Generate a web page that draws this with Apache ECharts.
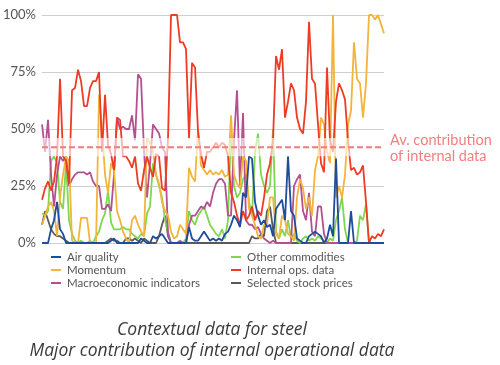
<!DOCTYPE html>
<html><head><meta charset="utf-8">
<script src="https://cdn.jsdelivr.net/npm/echarts@6/dist/echarts.min.js"></script>
<style>html,body{margin:0;padding:0;background:#fff}#c{width:500px;height:365px}</style>
</head><body><div id="c"></div>
<script>
// Time steps (periods)
const categories = Array.from({length:115}, (_, i) => String(i + 1));
const yTicks = [0, 25, 50, 75, 100];
const avgInternal = 42;
const avgBand = [38, 46];

const airQuality = [0,0,0,6,10,18,6,4,0,0, 0,0,0,0,0,0,0,0,0,0, 0,0,0,1,2,0,0,0,0,0, 0,0,0,2,1,0,0,3,2,3, 4,2,0,0,0,0,0,0,0,7, 2,1,1,3,5,3,1,2,1,2, 1,4,5,8,12,10,7,22,20,38, 37,18,12,8,10,7,8,3,15,17, 19,10,38,14,12,2,1,0,0,3, 4,5,4,3,0,2,8,3,37,0, 0,0,0,14,0,0,0,0,0,0, 0,0,0,0,0];
const momentum = [8,12,16,18,14,3,20,30,38,36, 1,0,0,11,11,11,0,0,0,65, 50,30,22,35,32,14,10,5,2,0, 10,12,8,5,3,46,44,40,30,26, 18,14,12,5,2,3,8,6,4,33, 29,27,50,34,32,30,32,30,31,30, 32,29,30,56,30,26,24,38,36,15, 12,8,3,2,8,8,20,20,4,2, 12,10,4,3,1,20,28,24,15,20, 12,32,38,55,52,40,35,100,20,25, 20,30,52,58,88,72,70,55,70,100, 100,98,100,96,92];
const macro = [52,40,54,30,16,30,38,36,38,25, 28,30,31,31,31,30,31,27,25,25, 15,15,17,14,30,55,50,51,50,50, 56,45,74,72,40,20,35,52,50,48, 42,40,4,0,0,0,1,0,0,8, 12,12,14,16,15,18,16,22,26,28, 28,26,12,12,45,67,25,57,10,8, 8,6,7,4,2,1,0,1,0,0, 0,0,0,0,25,28,30,14,10,22, 5,3,16,16,4,0,0,0,0,0, 0,0,0,0,0,0,0,0,0,0, 0,0,0,0,0];
const otherCommodities = [13,12,14,36,38,35,18,15,35,10, 4,1,0,1,0,0,1,0,3,5, 10,13,23,9,6,6,6,7,6,6, 4,3,2,4,3,13,16,35,30,25, 20,10,5,0,0,0,0,0,2,14, 10,8,12,14,16,12,8,6,4,3, 6,2,10,50,25,20,22,28,30,18, 12,40,48,30,25,22,25,50,5,2, 6,3,10,2,4,1,0,2,3,1, 2,1,3,2,1,0,2,1,10,14, 20,6,0,0,0,1,12,10,17,0, 0,0,0,0,0];
const internalOps = [19,24,27,23,27,38,72,38,36,26, 67,68,76,71,60,60,68,71,71,75, 40,65,43,39,32,55,54,38,38,36, 33,38,26,23,32,38,33,29,39,38, 24,23,46,100,100,100,88,88,85,46, 79,77,49,39,33,40,40,42,44,42, 44,43,38,22,18,12,8,14,10,12, 16,10,14,12,20,30,35,45,82,76, 85,55,62,70,67,55,50,48,62,97, 72,70,52,35,31,77,45,40,62,70, 67,63,45,32,33,30,31,34,18,0, 3,2,4,3,6];
const stockPrices = [8,14,10,6,4,3,3,2,1,0, 0,0,0,0,0,0,0,0,0,0, 0,0,1,2,1,1,0,0,2,2, 1,2,1,0,2,1,0,0,0,3, 8,12,3,0,0,0,0,0,0,0, 0,0,0,0,0,0,0,0,0,0, 0,0,0,0,0,0,0,0,0,0, 3,2,2,4,3,14,16,6,0,0, 0,0,0,0,0,0,0,0,0,0, 0,0,0,0,0,0,0,0,0,0, 0,0,0,0,0,0,0,0,0,0, 0,0,0,0,0];

const FONT = 'Lato, "Open Sans", sans-serif';
const TFONT = '"Open Sans", Lato, sans-serif';
const mk = (name, data, color, z) => ({
  name, type: 'line', data, z, showSymbol: false, symbol: 'none',
  lineStyle: { width: 1.8, color }, itemStyle: { color },
  emphasis: { disabled: true }
});

const chart = echarts.init(document.getElementById('c'), null, { renderer: 'canvas' });
const legendText = { color: '#555', fontSize: 11.5, fontFamily: FONT, padding: [0,0,0,1] };
chart.setOption({
  animation: false,
  grid: { left: 42, right: 116, top: 15, bottom: 122 },
  xAxis: { type: 'category', data: categories, boundaryGap: false,
    axisLine: { show: false }, axisTick: { show: false }, axisLabel: { show: false }, splitLine: { show: false } },
  yAxis: { type: 'value', min: 0, max: 100, interval: 25,
    axisLine: { show: false }, axisTick: { show: false },
    axisLabel: { formatter: v => yTicks.includes(v) ? v + '%' : '', color: '#555', fontSize: 13, fontFamily: FONT, margin: 6 },
    splitLine: { lineStyle: { color: '#cfcfcf', width: 1 } } },
  legend: [
    { data: ['Air quality', 'Momentum', 'Macroeconomic indicators'], orient: 'vertical', left: 46, top: 246,
      itemWidth: 10, itemHeight: 2, itemGap: 1, icon: 'rect', textStyle: legendText },
    { data: ['Other commodities', 'Internal ops. data', 'Selected stock prices'], orient: 'vertical', left: 226, top: 246,
      itemWidth: 10, itemHeight: 2, itemGap: 1, icon: 'rect', textStyle: legendText }
  ],
  series: [
    mk('Selected stock prices', stockPrices, '#5a5a5a', 2),
    mk('Other commodities', otherCommodities, '#7fd650', 3),
    mk('Macroeconomic indicators', macro, '#b3508f', 3),
    mk('Momentum', momentum, '#f2b53a', 4),
    mk('Internal ops. data', internalOps, '#ee3b24', 5),
    mk('Air quality', airQuality, '#1f4d99', 6)
  ]
});

// Average band + dashed line placed through the chart's own scales
const yTop = chart.convertToPixel({ yAxisIndex: 0 }, avgBand[1]);
const yBot = chart.convertToPixel({ yAxisIndex: 0 }, avgBand[0]);
const yAvg = chart.convertToPixel({ yAxisIndex: 0 }, avgInternal);
const x0 = chart.convertToPixel({ xAxisIndex: 0 }, categories[0]);
const x1 = chart.convertToPixel({ xAxisIndex: 0 }, categories[categories.length - 1]);
chart.setOption({
  graphic: [
    { type: 'rect', z: 50, silent: true, shape: { x: x0, y: yTop, width: x1 - x0, height: yBot - yTop },
      style: { fill: 'rgba(255,255,255,0.62)' } },
    { type: 'line', z: 51, silent: true, shape: { x1: x0, y1: yAvg, x2: x1, y2: yAvg },
      style: { stroke: '#f27a7a', lineWidth: 2.2, lineDash: [6, 3] } },
    { type: 'text', z: 51, left: 390, top: 132, style: { text: 'Av. contribution\nof internal data', fill: '#f08080', font: '14.5px ' + FONT, lineHeight: 16 } },
    { type: 'text', z: 51, x: 212, y: 320, style: { text: 'Contextual data for steel\nMajor contribution of internal operational data', fill: '#3a3a3a', font: 'italic 17.5px ' + TFONT, textAlign: 'center', lineHeight: 21 } }
  ]
});
</script></body></html>
